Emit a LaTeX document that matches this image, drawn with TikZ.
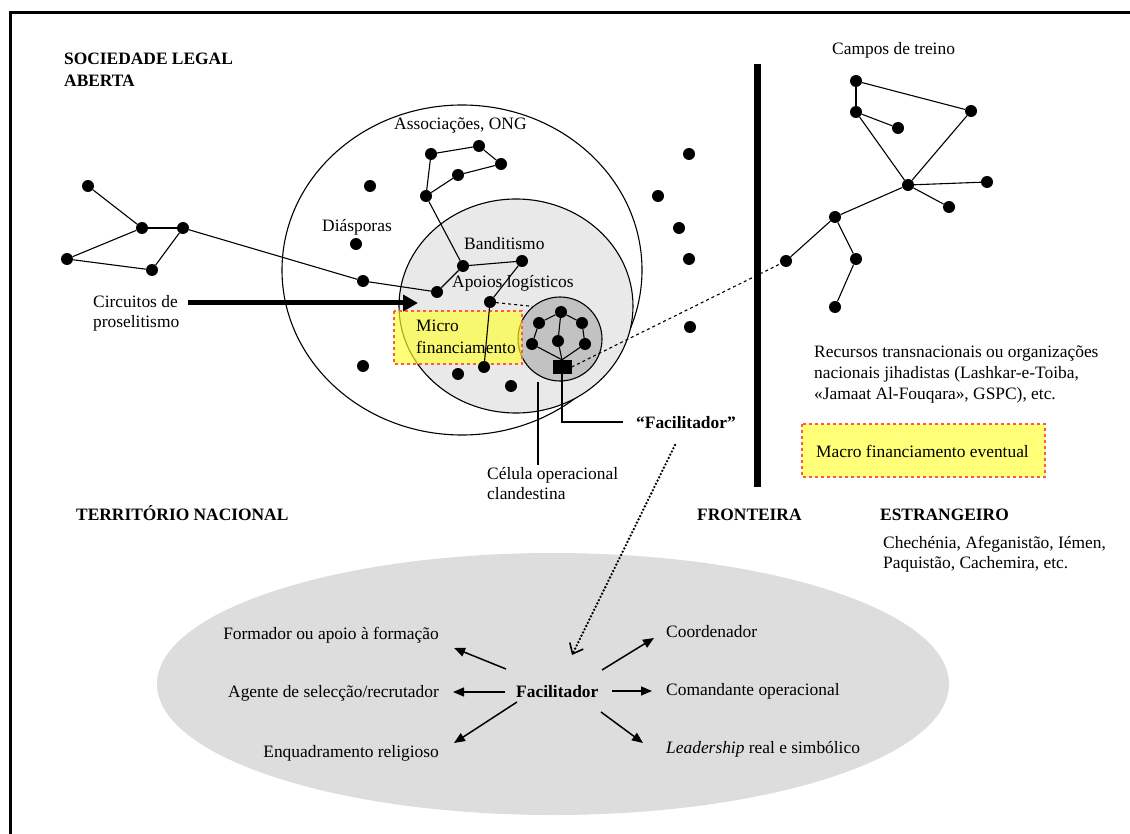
\documentclass[tikz,border=0pt]{standalone}
\usepackage{fontspec}
\setmainfont{Liberation Serif}
\usetikzlibrary{arrows.meta}
\definecolor{innergray}{HTML}{E9E9E9}
\definecolor{cellgray}{HTML}{C2C2C2}
\definecolor{ellgray}{HTML}{DDDDDD}
\definecolor{boxyellow}{HTML}{FFFF30}
\definecolor{boxred}{HTML}{FF5A3C}
\begin{document}
\begin{tikzpicture}[x=1pt,y=-1pt,
  dot/.style={circle,fill=black,inner sep=0pt,minimum size=12pt},
  edge/.style={line width=1.1pt},
  lbl/.style={inner sep=0pt,anchor=base west,font=\fontsize{17.4}{21}\selectfont},
  lblr/.style={lbl,anchor=base east},
  blbl/.style={lbl,font=\fontsize{17.4}{21}\selectfont\bfseries},
  finbox/.style={draw=boxred,dashed,line width=1.1pt,fill=boxyellow,fill opacity=0.65},
  bracket/.style={line width=2.2pt},
  rolearrow/.style={line width=1.5pt,-{Triangle[length=11pt,width=9pt]}},
]
\useasboundingbox (0,0) rectangle (1130,834);
% frame
\draw[line width=3pt] (10,834) -- (10,13) -- (1130,13);
% bottom ellipse
\fill[ellgray] (553,684) ellipse [x radius=396pt, y radius=131pt];
% circles
\draw[line width=1.1pt] (462,270) ellipse [x radius=180pt, y radius=165pt];
\draw[line width=1.1pt,fill=innergray] (516,306) ellipse [x radius=117pt, y radius=107pt];
\node[circle,draw,line width=1.1pt,fill=cellgray,minimum size=84pt,inner sep=0pt] (cell) at (560,339) {};
% micro box
\draw[finbox] (394,311) rectangle (522,364);
% frontier
\coordinate (ft) at (757,64);
\coordinate (fb) at (757,487);
\draw[line width=7pt] (ft) -- (fb);
% dots
\foreach \n/\x/\y in {l1/88/186,l2/142/228,l3/183/228,l4/67/259,l5/152/270,l6/363/281,l7/437/292,
  a1/431/154,a2/479/146,a3/501/164,a4/458/175,a5/426/196,a6/463/266,a7/522/261,a8/490/302,a9/484/367,
  d1/370/186,d2/356/244,d3/363/366,d4/458/374,d5/511/386,d6/689/154,d7/658/196,d8/679/228,d9/689/259,d10/690/327,
  c1/561/312,c2/539/323,c3/582/323,c4/532/344,c5/558/341,c6/585/344,
  A/856/81,B/856/112,C/898/128,D/971/111,E/908/185,F/987/182,G/949/207,H/835/217,I/786/261,J/856/259,K/835/307}
  \node[dot] (\n) at (\x,\y) {};
\node[fill=black,minimum width=19pt,minimum height=14pt,inner sep=0pt] (f) at (562,367) {};
% edges
\foreach \a/\b in {l1/l2,l2/l3,l2/l4,l4/l5,l5/l3,l3/l6,l6/l7,
  a1/a2,a2/a3,a3/a4,a4/a5,a5/a1,a5/a6,a6/a7,a6/l7,a7/a8,a8/a9,
  c1/c2,c1/c3,c1/c5,c2/c4,c3/c6,
  A/B,A/D,B/C,B/E,D/E,E/F,E/G,E/H,H/I,H/J,J/K}
  \draw[edge] (\a) -- (\b);
\foreach \a in {c4,c5,c6} \draw[edge] (\a) -- (f.north);
\draw[edge,dashed] (a8) -- (cell.130);
\draw[edge,dashed] (f.east) -- (I);
% labels top
\node[blbl] (soc1) at (64,65) {SOCIEDADE LEGAL};
\node[blbl] (soc2) at (64,87) {ABERTA};
\node[lbl] (campos) at (832,55) {Campos de treino};
\node[lbl] (assoc) at (394,130) {Associações, ONG};
\node[lbl] (diasp) at (322,232) {Diásporas};
\node[lbl] (band) at (464,250) {Banditismo};
\node[lbl] (apoio) at (452,288) {Apoios logísticos};
\node[lbl] (circ1) at (93,308) {Circuitos de};
\node[lbl] (circ2) at (93,328) {proselitismo};
\node[lbl] (micro1) at (416,332) {Micro};
\node[lbl] (micro2) at (416,353) {financiamento};
% proselytism arrow
\coordinate (ps) at (188,303);
\coordinate (pe) at (418,303);
\draw[line width=5pt,-{Triangle[length=15pt,width=16pt]}] (ps) -- (pe);
% facilitator bracket
\node[blbl] (facq) at (636,428) {“Facilitador”};
\draw[bracket] (f.south) |- ([xshift=-13pt]facq.west);
% cell label
\coordinate (cl1) at (538,382);
\coordinate (cl2) at (538,465);
\draw[bracket] (cl1) -- (cl2);
\node[lbl] (cel1) at (487,479) {Célula operacional};
\node[lbl] (cel2) at (487,499) {clandestina};
% right side texts
\node[lbl] (rec1) at (814,357) {Recursos transnacionais ou organizações};
\node[lbl] (rec2) at (814,378) {nacionais jihadistas (Lashkar-e-Toiba,};
\node[lbl] (rec3) at (814,399) {«Jamaat Al-Fouqara», GSPC), etc.};
\draw[finbox] (802,424) rectangle (1045,477);
\node[lbl] (macro) at (816,457) {Macro financiamento eventual};
\node[blbl] (terr) at (76,520) {TERRITÓRIO NACIONAL};
\node[blbl] (front) at (697,520) {FRONTEIRA};
\node[blbl] (estr) at (880,520) {ESTRANGEIRO};
\node[lbl] (pais1) at (883,548) {Chechénia, Afeganistão, Iémen,};
\node[lbl] (pais2) at (883,568) {Paquistão, Cachemira, etc.};
% dotted arrow
\coordinate (dt1) at (675,445);
\coordinate (dt2) at (572,655);
\draw[line width=2.6pt,line cap=round,dash pattern=on 0pt off 3.6pt,-{Straight Barb[length=9pt,width=15pt,line width=1.6pt]}] (dt1) -- (dt2);
% bottom roles
\node[blbl] (fc) at (516,697) {Facilitador};
\node[lblr] (form) at (439,639) {Formador ou apoio à formação};
\node[lblr] (agen) at (439,697) {Agente de selecção/recrutador};
\node[lblr] (enq) at (439,757) {Enquadramento religioso};
\node[lbl] (coord) at (666,637) {Coordenador};
\node[lbl] (coman) at (666,695) {Comandante operacional};
\node[lbl] (lead) at (666,753) {\textit{Leadership} real e simbólico};
\coordinate (s1) at (506,669); \coordinate (e1) at (454,648);
\coordinate (s2) at (505,692); \coordinate (e2) at (453,692);
\coordinate (s3) at (517,702); \coordinate (e3) at (454,743);
\coordinate (s4) at (602,670); \coordinate (e4) at (654,638);
\coordinate (s5) at (612,691); \coordinate (e5) at (652,691);
\coordinate (s6) at (601,712); \coordinate (e6) at (643,743);
\foreach \i in {1,...,6} \draw[rolearrow] (s\i) -- (e\i);
\end{tikzpicture}
\end{document}
